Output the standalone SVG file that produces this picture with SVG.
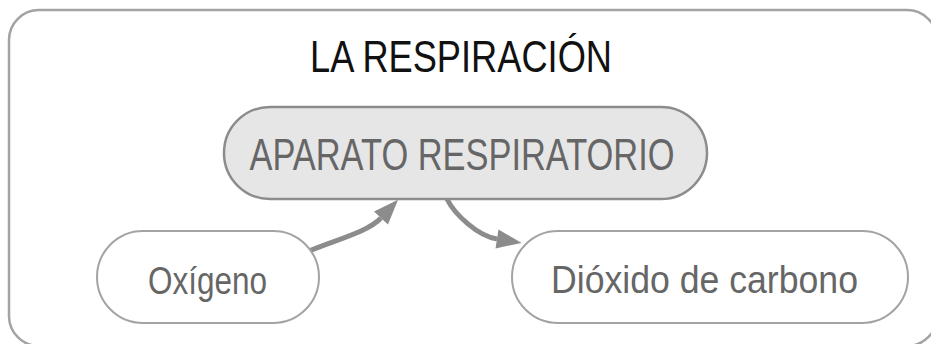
<svg xmlns="http://www.w3.org/2000/svg" width="931" height="344" viewBox="0 0 931 344">
<style>
.frame{fill:#ffffff;stroke:#a3a3a3;stroke-width:2.5}
.node{fill:#ffffff;stroke:#a3a3a3;stroke-width:2}
.main{fill:#e6e6e6;stroke:#8c8c8c;stroke-width:2.5}
.lbl{font-family:"Liberation Sans",Arial,sans-serif;fill:#666666;text-anchor:middle}
.title{font-family:"Liberation Sans",Arial,sans-serif;fill:#111111;text-anchor:middle}
.conn{fill:none;stroke:#8c8c8c;stroke-width:5}
</style>
<defs>
<marker id="ah" markerUnits="userSpaceOnUse" viewBox="0 -10 26 20" refX="0" refY="0" markerWidth="26" markerHeight="20" orient="auto" overflow="visible">
<path d="M0,-9.5 L25,0 L0,9.5 Z" fill="#8c8c8c"/>
</marker>
</defs>
<rect class="frame" x="9" y="10" width="928" height="336" rx="30" ry="30"/>
<text class="title" x="461" y="72" font-size="44" textLength="302" lengthAdjust="spacingAndGlyphs">LA RESPIRACIÓN</text>
<g id="connectors">
<path class="conn" d="M309,251 C335,240 368,232 381,218" marker-end="url(#ah)"/>
<path class="conn" d="M447,199 C455,215 478,236 497,239" marker-end="url(#ah)"/>
</g>
<g id="aparato">
<rect class="main" x="224" y="107" width="483" height="92" rx="46" ry="46"/>
<text class="lbl" x="462" y="170" font-size="44" textLength="425" lengthAdjust="spacingAndGlyphs">APARATO RESPIRATORIO</text>
</g>
<g id="oxigeno">
<rect class="node" x="97" y="231" width="222" height="92" rx="46" ry="46"/>
<text class="lbl" x="207.5" y="294" font-size="38" textLength="119" lengthAdjust="spacingAndGlyphs">Oxígeno</text>
</g>
<g id="dioxido">
<rect class="node" x="512" y="231" width="396" height="92" rx="46" ry="46"/>
<text class="lbl" x="704.5" y="293" font-size="38" textLength="307" lengthAdjust="spacingAndGlyphs">Dióxido de carbono</text>
</g>
</svg>
